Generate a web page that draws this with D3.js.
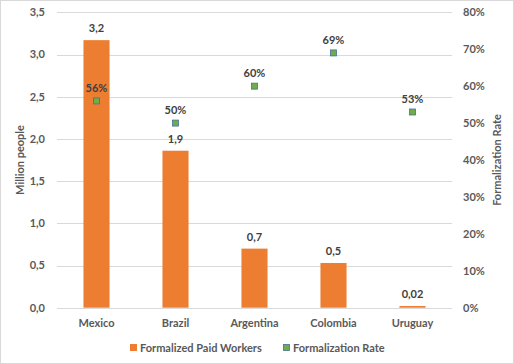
<!DOCTYPE html>
<html>
<head>
<meta charset="utf-8">
<script src="https://cdn.jsdelivr.net/npm/d3@7"></script>
<style>
  body { margin: 0; background: #fff; }
  text { font-family: Lato, "Open Sans", sans-serif; fill: #595959; }
</style>
</head>
<body>
<div id="chart"></div>
<script>
var countries = ["Mexico", "Brazil", "Argentina", "Colombia", "Uruguay"];
var workers = [3.17, 1.86, 0.70, 0.53, 0.02];
var workerLabels = ["3,2", "1,9", "0,7", "0,5", "0,02"];
var rates = [0.56, 0.50, 0.60, 0.69, 0.53];
var leftTicks = [0, 0.5, 1, 1.5, 2, 2.5, 3, 3.5];
var rightTicks = [0, 0.1, 0.2, 0.3, 0.4, 0.5, 0.6, 0.7, 0.8];

var width = 514, height = 364;
var plot = {left: 57, right: 452, top: 12.3, bottom: 307.7};

var svg = d3.select("#chart").append("svg")
    .attr("width", width)
    .attr("height", height);

// border
svg.append("rect")
    .attr("x", 0.5).attr("y", 0.5)
    .attr("width", width - 1).attr("height", height - 1)
    .attr("fill", "#fff")
    .attr("stroke", "#d9d9d9");

var x = d3.scaleBand()
    .domain(countries)
    .range([plot.left, plot.right])
    .paddingInner(0.67)
    .paddingOuter(0.335);

var y = d3.scaleLinear().domain([0, 3.5]).range([plot.bottom, plot.top]);
var y2 = d3.scaleLinear().domain([0, 0.8]).range([plot.bottom, plot.top]);

// gridlines
svg.append("g").selectAll("line")
    .data(leftTicks)
    .enter().append("line")
    .attr("x1", plot.left).attr("x2", plot.right)
    .attr("y1", function(d) { return Math.round(y(d)) + 0.5; })
    .attr("y2", function(d) { return Math.round(y(d)) + 0.5; })
    .attr("stroke", "#d9d9d9");

// left axis labels
svg.append("g").selectAll("text")
    .data(leftTicks)
    .enter().append("text")
    .attr("x", 45)
    .attr("y", function(d) { return y(d); })
    .attr("dy", "0.35em")
    .attr("text-anchor", "end")
    .style("font-size", "11px")
    .style("font-weight", "bold")
    .text(function(d) { return d3.format(".1f")(d).replace(".", ","); });

// right axis labels
svg.append("g").selectAll("text")
    .data(rightTicks)
    .enter().append("text")
    .attr("x", 463)
    .attr("y", function(d) { return y2(d); })
    .attr("dy", "0.35em")
    .attr("text-anchor", "start")
    .style("font-size", "11px")
    .style("font-weight", "bold")
    .text(function(d) { return Math.round(d * 100) + "%"; });

// axis titles
svg.append("text")
    .attr("transform", "translate(20," + ((plot.top + plot.bottom) / 2) + ") rotate(-90)")
    .attr("text-anchor", "middle")
    .attr("dy", "0.35em")
    .style("font-size", "11px")
    .style("font-weight", "bold")
    .text("Million people");

svg.append("text")
    .attr("transform", "translate(497," + ((plot.top + plot.bottom) / 2) + ") rotate(-90)")
    .attr("text-anchor", "middle")
    .attr("dy", "0.35em")
    .style("font-size", "11px")
    .style("font-weight", "bold")
    .text("Formalization Rate");

// bars
svg.append("g").selectAll("rect")
    .data(workers)
    .enter().append("rect")
    .attr("x", function(d, i) { return x(countries[i]); })
    .attr("y", function(d) { return y(d); })
    .attr("width", x.bandwidth())
    .attr("height", function(d) { return y(0) - y(d); })
    .attr("fill", "#ED7D31");

// bar labels
svg.append("g").selectAll("text")
    .data(workers)
    .enter().append("text")
    .attr("x", function(d, i) { return x(countries[i]) + x.bandwidth() / 2; })
    .attr("y", function(d) { return y(d) - 8; })
    .attr("text-anchor", "middle")
    .style("font-size", "11px")
    .style("font-weight", "bold")
    .style("fill", "#404040")
    .text(function(d, i) { return workerLabels[i]; });

// rate markers
svg.append("g").selectAll("rect")
    .data(rates)
    .enter().append("rect")
    .attr("x", function(d, i) { return x(countries[i]) + x.bandwidth() / 2 - 3; })
    .attr("y", function(d) { return y2(d) - 3; })
    .attr("width", 6)
    .attr("height", 6)
    .attr("fill", "#70AD47")
    .attr("stroke", "#41719C")
    .attr("stroke-width", 0.8);

svg.append("g").selectAll("text")
    .data(rates)
    .enter().append("text")
    .attr("x", function(d, i) { return x(countries[i]) + x.bandwidth() / 2; })
    .attr("y", function(d) { return y2(d) - 9; })
    .attr("text-anchor", "middle")
    .style("font-size", "11px")
    .style("font-weight", "bold")
    .style("fill", "#404040")
    .text(function(d) { return Math.round(d * 100) + "%"; });

// category labels
svg.append("g").selectAll("text")
    .data(countries)
    .enter().append("text")
    .attr("x", function(d) { return x(d) + x.bandwidth() / 2; })
    .attr("y", 323)
    .attr("dy", "0.35em")
    .attr("text-anchor", "middle")
    .style("font-size", "11px")
    .style("font-weight", "bold")
    .text(function(d) { return d; });

// legend
var legend = svg.append("g");
legend.append("rect")
    .attr("x", 130).attr("y", 344).attr("width", 7).attr("height", 7)
    .attr("fill", "#ED7D31");
legend.append("text")
    .attr("x", 140).attr("y", 348).attr("dy", "0.35em")
    .style("font-size", "11px").style("font-weight", "bold")
    .text("Formalized Paid Workers");
legend.append("rect")
    .attr("x", 283.5).attr("y", 344.5).attr("width", 6).attr("height", 6)
    .attr("fill", "#70AD47").attr("stroke", "#41719C").attr("stroke-width", 0.8);
legend.append("text")
    .attr("x", 293).attr("y", 348).attr("dy", "0.35em")
    .style("font-size", "11px").style("font-weight", "bold")
    .text("Formalization Rate");
</script>
</body>
</html>
